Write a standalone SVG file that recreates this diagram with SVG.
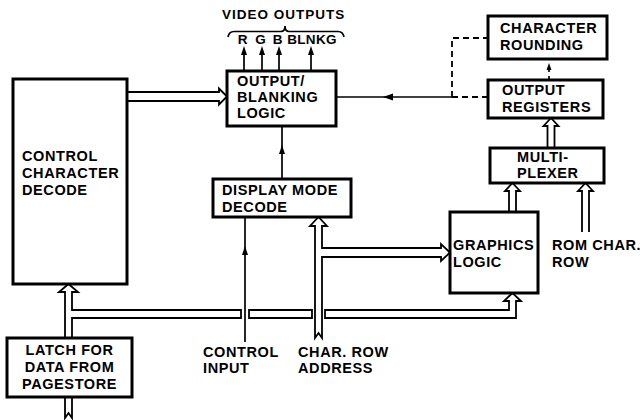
<svg xmlns="http://www.w3.org/2000/svg" width="640" height="420" viewBox="0 0 640 420">
<style>
.box{fill:#fff;stroke:#000;stroke-width:3}
.t{font-family:"Liberation Sans",Arial,sans-serif;font-weight:bold;font-size:14.5px;letter-spacing:0.6px;fill:#000}
.s{font-size:13.5px;letter-spacing:1px}
.w{fill:none;stroke:#000;stroke-width:1.8;stroke-linejoin:miter}
.ln{fill:none;stroke:#000;stroke-width:1.7}
.d{fill:none;stroke:#000;stroke-width:1.8;stroke-dasharray:6 4}
.ah{fill:#000;stroke:none}
</style>
<rect width="640" height="420" fill="#fff"/>
<g id="connectors">
  <!-- CCD to output/blanking -->
  <path class="w" d="M127,92 H219 V88.5 L227,96.5 L219,104.5 V101 H127"/>
  <!-- video outputs -->
  <path class="ln" d="M244,71 V52 M262,71 V52 M279,71 V52 M311,71 V52"/>
  <path class="ah" d="M244,46 L241,55 L247,55 Z M262,46 L259,55 L265,55 Z M279,46 L276,55 L282,55 Z M311,46 L308,55 L314,55 Z"/>
  <path class="ln" d="M228,37 Q229,31.5 234,31.5 H281 Q285,31.5 285,26 Q285,31.5 289,31.5 H338 Q343,31.5 344,37"/>
  <!-- display mode to output blanking -->
  <path class="ln" d="M282,179 V126"/>
  <path class="ah" d="M282,145 L279,154 L285,154 Z"/>
  <!-- output registers to output blanking -->
  <path class="ln" d="M336,97 H452"/>
  <path class="ah" d="M383,97 L393,93.5 L393,100.5 Z"/>
  <path class="d" d="M452,97 H488 M452,97 V38 H488"/>
  <!-- output registers to character rounding -->
  <path class="ln" d="M549,80 V76 M549,72 V66"/>
  <path class="ah" d="M549,63 L546.5,70 L551.5,70 Z"/>
  <!-- mux to output registers -->
  <path class="w" d="M547.5,148 V126 H543.5 L551,118 L558.5,126 H554.5 V148"/>
  <!-- graphics to mux -->
  <path class="w" d="M509,212 V191 H505 L512.5,183 L520,191 H516 V212"/>
  <!-- rom char row to mux -->
  <path class="w" d="M582,232 V191 H578 L585.5,183 L593,191 H589 V232"/>
  <!-- char row address -->
  <path class="w" d="M315,338 V226 H310 L318.5,217 L327,226 H322 V248 H441 V244 L450,252.5 L441,261 V257 H322 V338 L318.5,333 Z"/>
  <!-- control input -->
  <path class="ln" d="M245,217 V342"/>
  <path class="ah" d="M245,246 L242,255 L248,255 Z"/>
  <!-- latch to CCD and bus -->
  <path class="w" d="M65,338 V292 H59 L68.5,284 L78,292 H72 V310 H241 V318 H72 V338"/>
  <path class="w" d="M249,310 H312 V318 H249 Z"/>
  <path class="w" d="M325,310 H509 V301 H504 L512.5,293 L521,301 H516 V318 H325 Z"/>
  <!-- input to latch -->
  <path class="w" d="M65,397 V418 L68.5,413 L72,418 V397"/>
</g>
<g id="ccd">
  <rect class="box" x="13" y="79" width="114" height="205"/>
  <text class="t" x="22" y="161">CONTROL</text>
  <text class="t" x="22" y="178">CHARACTER</text>
  <text class="t" x="22" y="195">DECODE</text>
</g>
<g id="video">
  <text class="t s" x="222" y="19">VIDEO OUTPUTS</text>
  <text class="t s" x="243" y="44" text-anchor="middle">R</text>
  <text class="t s" x="261" y="44" text-anchor="middle">G</text>
  <text class="t s" x="278" y="44" text-anchor="middle">B</text>
  <text class="t s" x="312" y="44" text-anchor="middle" style="letter-spacing:0.3px">BLNKG</text>
</g>
<g id="blanking">
  <rect class="box" x="227" y="71" width="109" height="55" stroke-width="3.4"/>
  <text class="t" x="237" y="86">OUTPUT/</text>
  <text class="t" x="237" y="102">BLANKING</text>
  <text class="t" x="237" y="118">LOGIC</text>
</g>
<g id="rounding">
  <rect class="box" x="488" y="16" width="119" height="43"/>
  <text class="t" x="500" y="33">CHARACTER</text>
  <text class="t" x="500" y="50">ROUNDING</text>
</g>
<g id="registers">
  <rect class="box" x="488" y="80" width="115" height="38"/>
  <text class="t" x="502" y="95">OUTPUT</text>
  <text class="t" x="502" y="112">REGISTERS</text>
</g>
<g id="mux">
  <rect class="box" x="490" y="148" width="114" height="35"/>
  <text class="t" x="517" y="162">MULTI-</text>
  <text class="t" x="517" y="178">PLEXER</text>
</g>
<g id="displaymode">
  <rect class="box" x="213" y="179" width="138" height="38"/>
  <text class="t" x="222" y="195">DISPLAY MODE</text>
  <text class="t" x="222" y="212">DECODE</text>
</g>
<g id="graphics">
  <rect class="box" x="450" y="212" width="88" height="81"/>
  <text class="t" x="453" y="250">GRAPHICS</text>
  <text class="t" x="453" y="267">LOGIC</text>
</g>
<g id="romrow">
  <text class="t" x="552" y="250">ROM CHAR.</text>
  <text class="t" x="552" y="267">ROW</text>
</g>
<g id="controlinput">
  <text class="t" x="203" y="357">CONTROL</text>
  <text class="t" x="203" y="373">INPUT</text>
</g>
<g id="charrow">
  <text class="t" x="298" y="357">CHAR. ROW</text>
  <text class="t" x="298" y="373">ADDRESS</text>
</g>
<g id="latch">
  <rect class="box" x="7" y="338" width="125" height="59"/>
  <text class="t" x="69.5" y="355" text-anchor="middle">LATCH FOR</text>
  <text class="t" x="69.5" y="372" text-anchor="middle">DATA FROM</text>
  <text class="t" x="69.5" y="389" text-anchor="middle">PAGESTORE</text>
</g>
</svg>
